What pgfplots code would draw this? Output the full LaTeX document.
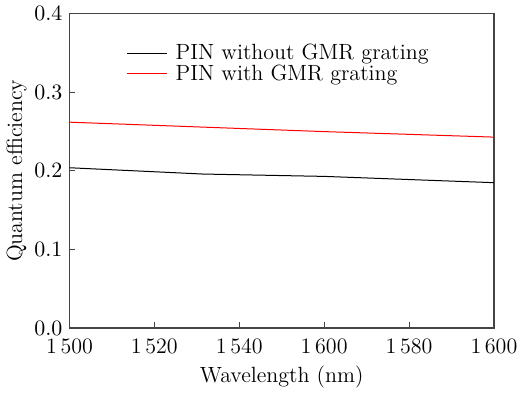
\documentclass[border=0pt]{standalone}
\usepackage{pgfplots}
\pgfplotsset{compat=1.18}
\definecolor{framegray}{HTML}{444444}
\begin{document}
\begin{tikzpicture}[font=\fontsize{11}{13}\selectfont]
\begin{axis}[
  scale only axis,
  width=212pt, height=157pt,
  xmin=0, xmax=100, ymin=0, ymax=0.4,
  xtick={0,20,40,60,80,100},
  xticklabels={1\,500,1\,520,1\,540,1\,600,1\,580,1\,600},
  ytick={0,0.1,0.2,0.3,0.4},
  yticklabel style={/pgf/number format/.cd,fixed,fixed zerofill,precision=1},
  ticklabel style={font=\fontsize{11}{13}\selectfont},
  xticklabel style={yshift=-2pt},
  tick align=inside,
  xtick pos=bottom, ytick pos=left,
  major tick length=3pt,
  axis line style={framegray, line width=0.6pt},
  tick style={framegray, line width=0.5pt},
  xlabel={Wavelength (nm)},
  ylabel={Quantum efficiency},
  label style={font=\fontsize{11}{13}\selectfont},
  xlabel style={yshift=1pt},
  ylabel style={yshift=-3pt},
  legend style={draw=none, fill=none, at={(0.12,0.93)}, anchor=north west, row sep=-3pt, font=\fontsize{11}{13}\selectfont},
  legend cell align=left,
  legend image code/.code={\draw[#1] (0cm,0cm) -- (0.7cm,0cm);},
  legend style={/tikz/every odd column/.append style={column sep=2pt}},
]
\addplot[black, line width=0.5pt] coordinates {(0,0.204) (31.4,0.196) (60,0.193) (100,0.185)};
\addlegendentry{PIN without GMR grating}
\addplot[red, line width=0.5pt] coordinates {(0,0.262) (30,0.256) (60,0.250) (100,0.243)};
\addlegendentry{PIN with GMR grating}
\end{axis}
\end{tikzpicture}
\end{document}
